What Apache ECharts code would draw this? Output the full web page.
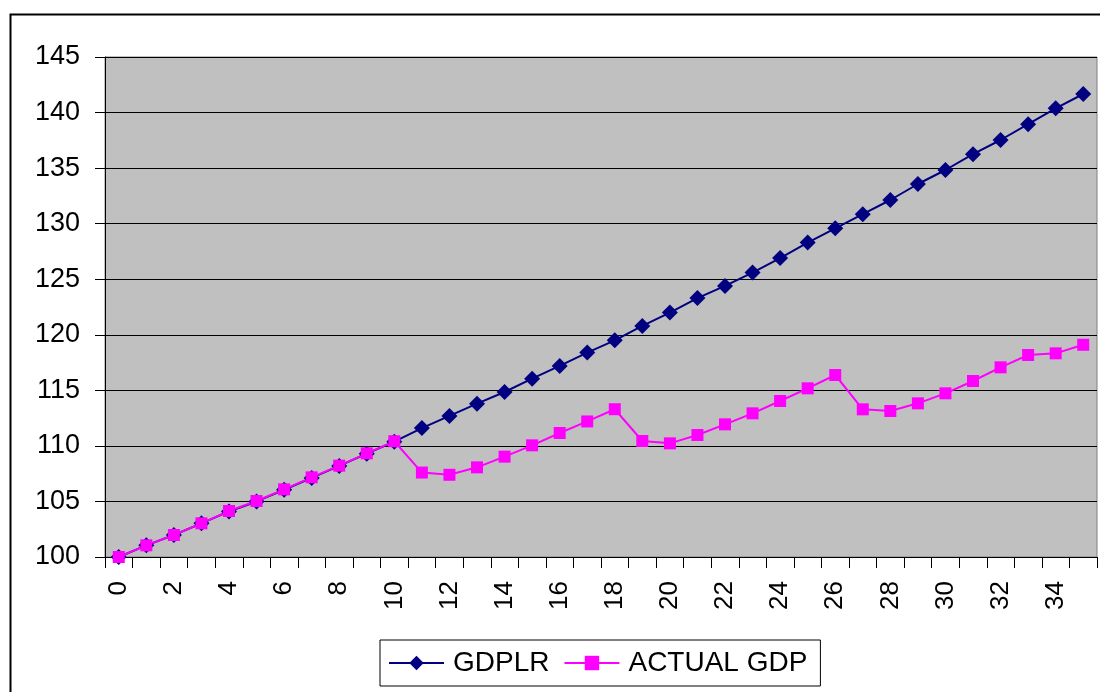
<!DOCTYPE html>
<html>
<head>
<meta charset="utf-8">
<script src="https://cdn.jsdelivr.net/npm/echarts@6/dist/echarts.min.js"></script>
<style>
html,body{margin:0;padding:0;background:#fff;}
#c{width:1100px;height:692px;}
</style>
</head>
<body>
<div id="c"></div>
<script>
var categories = ['0','1','2','3','4','5','6','7','8','9','10','11','12','13','14','15','16','17','18','19','20','21','22','23','24','25','26','27','28','29','30','31','32','33','34','35'];
var gdplr = [100, 101.05, 101.98, 103.03, 104.1, 105.0, 106.05, 107.12, 108.2, 109.3, 110.38, 111.6, 112.7, 113.8, 114.85, 116.05, 117.2, 118.4, 119.5, 120.8, 122.0, 123.3, 124.4, 125.6, 126.9, 128.3, 129.58, 130.85, 132.13, 133.57, 134.83, 136.25, 137.53, 138.95, 140.38, 141.67];
var actualGdp = [100, 101.05, 101.98, 103.03, 104.14, 105.04, 106.09, 107.17, 108.22, 109.33, 110.42, 107.6, 107.4, 108.07, 109.03, 110.05, 111.16, 112.2, 113.3, 110.44, 110.23, 110.98, 111.94, 112.93, 114.04, 115.18, 116.38, 113.29, 113.14, 113.83, 114.73, 115.84, 117.07, 118.18, 118.33, 119.1];
var yTicks = {min: 100, max: 145, interval: 5};

var chart = echarts.init(document.getElementById('c'), null, {renderer: 'canvas'});
var font = 'Liberation Sans, Arial, sans-serif';
chart.setOption({
  animation: false,
  backgroundColor: '#ffffff',
  graphic: [{
    type: 'rect', left: 8, top: 12, z: -10,
    shape: {x: 0, y: 0, width: 1200, height: 800},
    style: {fill: 'none', stroke: '#000', lineWidth: 2}
  }],
  grid: {
    left: 105, top: 57, right: 3, bottom: 135,
    show: true, backgroundColor: '#C0C0C0', borderColor: '#808080', borderWidth: 1
  },
  legend: {
    left: 380, top: 640,
    padding: [9, 13, 9, 8],
    borderColor: '#000', borderWidth: 1,
    itemWidth: 55, itemHeight: 18, itemGap: 14,
    textStyle: {fontFamily: font, fontSize: 28, color: '#000', padding: [0, 0, 0, 4]},
    data: ['GDPLR', 'ACTUAL GDP']
  },
  xAxis: {
    type: 'category',
    data: categories,
    boundaryGap: true,
    axisLine: {show: true, lineStyle: {color: '#000', width: 1}},
    axisTick: {show: true, interval: 0, length: 11, lineStyle: {color: '#000'}},
    axisLabel: {interval: 1, rotate: 90, margin: 24, fontFamily: font, fontSize: 26, color: '#000'},
    splitLine: {show: false}
  },
  yAxis: {
    type: 'value',
    min: yTicks.min, max: yTicks.max, interval: yTicks.interval,
    axisLine: {show: true, lineStyle: {color: '#000', width: 1}},
    axisTick: {show: true, length: 10, lineStyle: {color: '#000'}},
    axisLabel: {margin: 25, fontFamily: font, fontSize: 27, color: '#000'},
    splitLine: {show: true, lineStyle: {color: '#000', width: 1}}
  },
  series: [
    {
      name: 'GDPLR', type: 'line', data: gdplr,
      symbol: 'diamond', symbolSize: 16,
      itemStyle: {color: '#000080'},
      lineStyle: {color: '#000080', width: 2}
    },
    {
      name: 'ACTUAL GDP', type: 'line', data: actualGdp,
      symbol: 'rect', symbolSize: 12,
      itemStyle: {color: '#FF00FF'},
      lineStyle: {color: '#FF00FF', width: 2}
    }
  ]
});
</script>
</body>
</html>
